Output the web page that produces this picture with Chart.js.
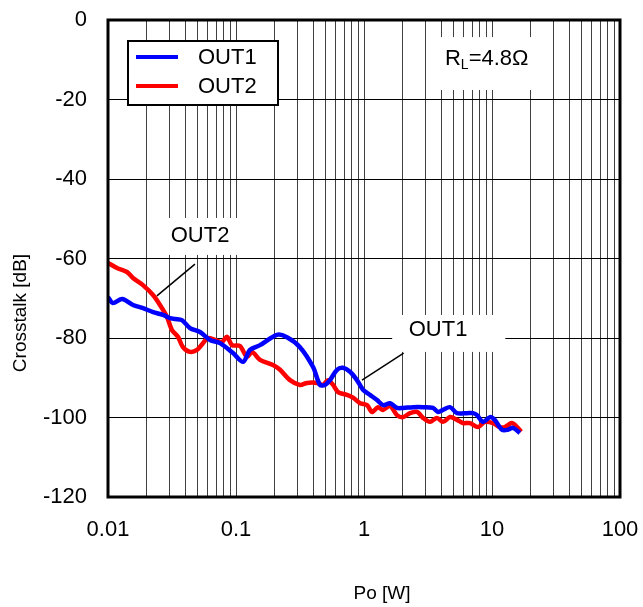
<!DOCTYPE html>
<html>
<head>
<meta charset="utf-8">
<script src="https://cdn.jsdelivr.net/npm/chart.js@4.4.1/dist/chart.umd.min.js"></script>
<style>
  html, body { margin: 0; padding: 0; background: #fff; }
</style>
</head>
<body>
<canvas id="chart" width="643" height="607"></canvas>
<script>
// Crosstalk vs output power
const out1X = [0.01, 0.0109, 0.0129, 0.0157, 0.0188, 0.0225, 0.0269, 0.0305, 0.0334, 0.0378,
  0.0437, 0.0523, 0.0626, 0.075, 0.0948, 0.1135, 0.1286, 0.154, 0.209, 0.25,
  0.316, 0.4, 0.453, 0.496, 0.542, 0.615, 0.685, 0.778, 0.881, 0.982,
  1.114, 1.264, 1.41, 1.6, 1.81, 2.02, 2.42, 2.89, 3.46, 3.79,
  4.14, 4.7, 5.33, 6.38, 7.11, 7.64, 8.51, 9.64, 10.5, 11.97,
  13.3, 14.6, 16.5];
const out1Y = [-69.7, -71.2, -70.2, -71.7, -72.5, -73.5, -74.2, -75.0, -75.2, -75.5,
  -77.5, -78.5, -80.5, -81.3, -83.8, -86.0, -83.0, -81.8, -79.2, -79.8,
  -82.3, -87.3, -91.8, -91.8, -90.6, -88.0, -87.5, -88.5, -90.6, -93.0,
  -94.3, -95.6, -96.9, -96.4, -97.6, -97.6, -97.4, -97.4, -97.6, -98.6,
  -98.1, -97.4, -98.9, -98.9, -98.9, -99.4, -101.1, -99.9, -100.6, -103.1,
  -103.1, -102.6, -103.9];

const out2X = [0.01, 0.01176, 0.01407, 0.01567, 0.01875, 0.02247, 0.02547, 0.0289, 0.0316, 0.0352,
  0.0385, 0.0437, 0.0496, 0.0552, 0.0604, 0.0686, 0.0778, 0.0851, 0.0931, 0.1074,
  0.1219, 0.1334, 0.154, 0.1945, 0.221, 0.264, 0.316, 0.359, 0.43, 0.479,
  0.523, 0.573, 0.627, 0.736, 0.82, 0.931, 1.055, 1.155, 1.286, 1.406,
  1.596, 1.81, 2.02, 2.29, 2.6, 2.89, 3.28, 3.72, 4.14, 4.7,
  5.33, 5.93, 6.73, 7.78, 8.81, 10.2, 11.5, 12.6, 14.3, 15.7,
  16.9];
const out2Y = [-61.1, -62.4, -63.4, -64.9, -66.7, -69.2, -71.7, -74.7, -78.0, -79.7,
  -82.3, -83.5, -83.0, -81.3, -80.0, -80.5, -81.0, -79.7, -81.8, -82.0,
  -84.8, -83.5, -85.5, -86.8, -88.0, -90.6, -91.8, -91.3, -91.3, -91.8,
  -90.6, -91.8, -93.6, -94.3, -95.0, -96.4, -96.9, -98.6, -97.4, -98.1,
  -97.1, -99.4, -99.9, -98.9, -98.6, -100.1, -101.1, -100.1, -101.1, -99.9,
  -100.6, -101.4, -101.4, -102.4, -101.1, -101.4, -102.4, -102.4, -101.4, -102.4,
  -103.6];

const seriesNames = ['OUT1', 'OUT2'];
const seriesColors = ['#0000ff', '#ff0000'];

const xMajorTicks = [0.01, 0.1, 1, 10, 100];
const xTickLabels = ['0.01', '0.1', '1', '10', '100'];
const yTicks = [-120, -100, -80, -60, -40, -20, 0];

// gridlines at 1..9 of every decade
const xGridValues = [];
xMajorTicks.forEach((d, i) => {
  if (i === xMajorTicks.length - 1) { xGridValues.push(d); return; }
  for (let m = 1; m <= 9; m++) xGridValues.push(Number((m * d).toPrecision(6)));
});

const FONT = "'Liberation Sans', Arial, sans-serif";

// in-plot labels (data coordinates)
const notes = [
  { text: 'OUT2', x: 0.0524, y: -54.3, box: [0.0246, -49.8, 0.1074, -59.1], lead: [0.0478, -61.4, 0.0241, -69.4] },
  { text: 'OUT1', x: 3.79, y: -78.0, box: [1.66, -74.2, 12.7, -83.5], lead: [2.04, -83.8, 0.965, -90.6] }
];

const toXY = (xs, ys) => xs.map((x, i) => ({ x, y: ys[i] }));

const notesPlugin = {
  id: 'notes',
  beforeDatasetsDraw(chart) {
    const { ctx, scales: { x, y } } = chart;
    ctx.save();
    notes.forEach(n => {
      const [x1, y1, x2, y2] = n.box;
      const px1 = x.getPixelForValue(x1), py1 = y.getPixelForValue(y1);
      ctx.fillStyle = '#fff';
      ctx.fillRect(px1, py1, x.getPixelForValue(x2) - px1, y.getPixelForValue(y2) - py1);
      ctx.fillStyle = '#000';
      ctx.font = '22px ' + FONT;
      ctx.textAlign = 'center';
      ctx.textBaseline = 'middle';
      ctx.fillText(n.text, x.getPixelForValue(n.x), y.getPixelForValue(n.y));
      ctx.strokeStyle = '#000';
      ctx.lineWidth = 1.5;
      ctx.beginPath();
      ctx.moveTo(x.getPixelForValue(n.lead[0]), y.getPixelForValue(n.lead[1]));
      ctx.lineTo(x.getPixelForValue(n.lead[2]), y.getPixelForValue(n.lead[3]));
      ctx.stroke();
    });

    // R_L label
    const bx1 = x.getPixelForValue(3.26), by1 = y.getPixelForValue(-4.3);
    ctx.fillStyle = '#fff';
    ctx.fillRect(bx1, by1, x.getPixelForValue(29.5) - bx1, y.getPixelForValue(-17.6) - by1);
    ctx.fillStyle = '#000';
    ctx.textAlign = 'left';
    ctx.textBaseline = 'alphabetic';
    let tx = x.getPixelForValue(4.29);
    const ty = y.getPixelForValue(-9.3) + 8;
    ctx.font = '22px ' + FONT;
    ctx.fillText('R', tx, ty);
    tx += ctx.measureText('R').width;
    ctx.font = '14px ' + FONT;
    ctx.fillText('L', tx, ty + 4);
    tx += ctx.measureText('L').width;
    ctx.font = '22px ' + FONT;
    ctx.fillText('=4.8\u03A9', tx, ty);
    ctx.restore();
  },
  afterDatasetsDraw(chart) {
    const { ctx, chartArea: a } = chart;
    ctx.save();
    // legend box
    const lx = a.left + 20, ly = a.top + 21;
    ctx.fillStyle = '#fff';
    ctx.fillRect(lx, ly, 150, 64);
    ctx.strokeStyle = '#000';
    ctx.lineWidth = 2;
    ctx.strokeRect(lx, ly, 150, 64);
    chart.data.datasets.forEach((ds, i) => {
      const yy = ly + 16 + i * 29;
      ctx.strokeStyle = ds.borderColor;
      ctx.lineWidth = 4;
      ctx.beginPath();
      ctx.moveTo(lx + 8, yy);
      ctx.lineTo(lx + 50, yy);
      ctx.stroke();
      ctx.fillStyle = '#000';
      ctx.font = '22px ' + FONT;
      ctx.textAlign = 'left';
      ctx.textBaseline = 'middle';
      ctx.fillText(ds.label, lx + 70, yy + 1);
    });
    ctx.restore();
  },
  afterDraw(chart) {
    const { ctx, chartArea: a } = chart;
    ctx.save();
    ctx.strokeStyle = '#000';
    ctx.lineWidth = 3;
    ctx.strokeRect(a.left, a.top, a.right - a.left, a.bottom - a.top);
    // axis titles
    ctx.fillStyle = '#000';
    ctx.font = '19px ' + FONT;
    ctx.textAlign = 'center';
    ctx.textBaseline = 'middle';
    ctx.fillText('Po [W]', a.left + 274, a.bottom + 97);
    ctx.translate(21, a.top + 293);
    ctx.rotate(-Math.PI / 2);
    ctx.fillText('Crosstalk [dB]', 0, 0);
    ctx.restore();
  }
};

const ctx = document.getElementById('chart');
new Chart(ctx, {
  type: 'line',
  data: {
    datasets: [
      { label: seriesNames[0], data: toXY(out1X, out1Y), borderColor: seriesColors[0], borderWidth: 4.5, pointRadius: 0, tension: 0.3, fill: false },
      { label: seriesNames[1], data: toXY(out2X, out2Y), borderColor: seriesColors[1], borderWidth: 4.5, pointRadius: 0, tension: 0.3, fill: false }
    ]
  },
  options: {
    responsive: false,
    animation: false,
    devicePixelRatio: 1,
    layout: { padding: { top: 20, right: 23, left: 0, bottom: 0 } },
    plugins: { legend: { display: false }, tooltip: { enabled: false } },
    scales: {
      x: {
        type: 'logarithmic',
        min: 0.01,
        max: 100,
        afterBuildTicks: s => { s.ticks = xGridValues.map(v => ({ value: v })); },
        afterFit: s => { s.height = 110; s.paddingLeft = 0; s.paddingRight = 0; },
        ticks: {
          autoSkip: false,
          maxRotation: 0,
          padding: 20,
          color: '#000',
          font: { family: FONT, size: 22 },
          callback: v => {
            const i = xMajorTicks.findIndex(m => Math.abs(m - v) / m < 1e-6);
            return i >= 0 ? xTickLabels[i] : '';
          }
        },
        grid: { color: '#404040', lineWidth: 1, drawTicks: false },
        border: { display: false }
      },
      y: {
        min: -120,
        max: 0,
        afterBuildTicks: s => { s.ticks = yTicks.map(v => ({ value: v })); },
        afterFit: s => { s.width = 108; s.paddingTop = 0; s.paddingBottom = 0; },
        ticks: { padding: 21, color: '#000', font: { family: FONT, size: 22 } },
        grid: { color: '#000', lineWidth: 1, drawTicks: false },
        border: { display: false }
      }
    }
  },
  plugins: [notesPlugin]
});
</script>
</body>
</html>
